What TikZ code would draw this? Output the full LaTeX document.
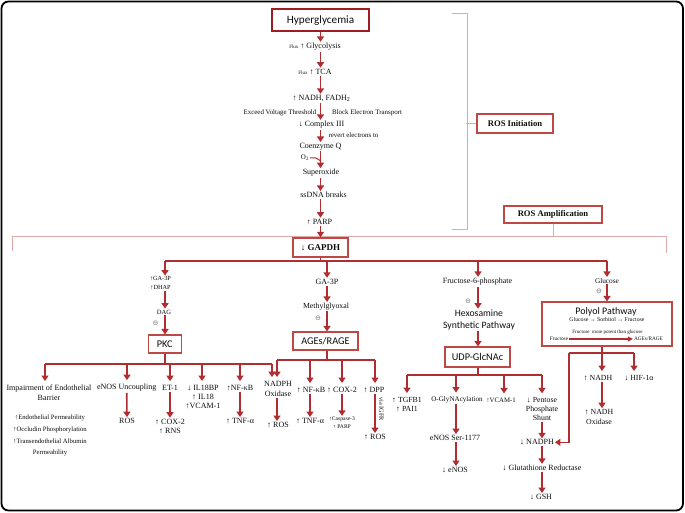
\documentclass[tikz,border=0pt]{standalone}
\usepackage{fontspec}
\setmainfont{Liberation Serif}
\newfontfamily\calib{Carlito}
\newfontfamily\djv{DejaVu Sans}
\usetikzlibrary{arrows.meta,calc}
\definecolor{arrred}{RGB}{176,46,50}
\definecolor{boxred}{RGB}{190,72,70}
\definecolor{darkbox}{RGB}{158,28,34}
\definecolor{pinkl}{RGB}{226,168,168}
\definecolor{txt}{RGB}{12,12,12}
\tikzset{
  lab/.style={font=\fontsize{8}{9.4}\selectfont, text=txt, inner sep=1pt, align=center},
  sm/.style={lab, font=\fontsize{6.9}{8}\selectfont},
  om/.style={font=\djv\fontsize{7}{7}\selectfont, text=black!55, inner sep=0pt},
  sbox/.style={draw=boxred, line width=1.1pt, font=\calib\fontsize{10.3}{12}\selectfont, text=txt, inner sep=0pt},
  bbox/.style={draw=boxred, line width=1.1pt, font=\bfseries\fontsize{8.6}{10}\selectfont, text=txt, inner sep=0pt},
  arr/.style={draw=arrred, line width=1.6pt, -{Triangle[width=7pt,length=5.5pt]}},
  tarr/.style={arr, shorten >=3pt},
  rline/.style={draw=arrred, line width=1.6pt},
  pline/.style={draw=pinkl, line width=1pt}
}
\begin{document}
\begin{tikzpicture}[x=1pt,y=-1pt]
\useasboundingbox (0,0) rectangle (685,513);
\draw[line width=1.8pt, rounded corners=7pt] (1.5,1.5) rectangle (683,510.5);

% ---------- main chain ----------
\coordinate (cM) at (320.5,0);
\node[draw=darkbox, line width=2pt, minimum width=97pt, minimum height=22pt, inner sep=0pt, text=txt, font=\calib\fontsize{11.2}{13}\selectfont] (hyper) at (320.5,20.5) {Hyperglycemia};
\node[lab] (glyc) at (315,46.7) {{\fontsize{5}{6}\selectfont Flux} ↑ Glycolysis};
\node[lab] (tca) at (315,71.7) {{\fontsize{5}{6}\selectfont Flux} ↑ TCA};
\node[lab] (nadh) at (321.5,98.3) {↑ NADH, FADH\textsubscript{2}};
\node[sm] (exceed) at (280,113) {Exceed Voltage Threshold};
\node[sm] (block) at (367,113) {Block Electron Transport};
\node[lab] (cplx) at (321.5,124.7) {↓ Complex III};
\node[sm] (revert) at (353.5,135) {revert electrons to};
\node[lab] (coq) at (320.5,146.7) {Coenzyme Q};
\node[lab, font=\fontsize{7}{8}\selectfont] (o2) at (305,158) {O\textsubscript{2}};
\node[lab] (supox) at (321,173) {Superoxide};
\node[lab] (ssdna) at (323.5,195) {ssDNA breaks};
\node[lab] (parp) at (319.5,221.7) {↑ PARP};
\node[draw=boxred, line width=1.4pt, minimum width=55pt, minimum height=19pt, inner sep=0pt, text=txt, font=\bfseries\fontsize{9}{10}\selectfont] (gapdh) at (320.5,247.5) {↓ GAPDH};

% ---------- brackets ----------
\node[bbox, minimum width=76pt, minimum height=19pt] (rosinit) at (515,123.5) {ROS Initiation};
\node[bbox, minimum width=98pt, minimum height=17pt] (rosamp) at (553,214.5) {ROS Amplification};
\coordinate (bT) at (452,14);
\coordinate (bB) at (452,229);
\draw[pline] (bT) -- (467,14) |- (bB);
\draw[pline] (rosinit.west) -- ++(-10,0);
\coordinate (aL) at (12,251);
\coordinate (aR) at (666,253);
\draw[pline] (aL) -- (12,236) -- (666,236) -- (aR);
\draw[pline] (rosamp.south) -- ++(0,13);

\foreach \a/\b in {hyper/glyc, glyc/tca, tca/nadh, nadh/cplx, cplx/coq, coq/supox, supox/ssdna, ssdna/parp, parp/gapdh}
  \draw[arr] (\a.south -| cM) -- (\b.north -| cM);
\coordinate (o2m) at (320.5,161);
\draw[draw=arrred, line width=1pt] (o2.east) .. controls (316,157.5) .. (o2m);

% ---------- distribution ----------
\coordinate (sp) at (320.5,261);
\coordinate (cA) at (165,0);
\coordinate (cB) at (327,0);
\coordinate (cC) at (478,0);
\coordinate (cD) at (607,0);
\draw[rline] (gapdh.south) -- (sp);
\draw[rline] (sp -| cA) -- (sp -| cD);

% ---------- column A : PKC ----------
\node[lab, font=\fontsize{6.3}{9}\selectfont] (ga3pA) at (160.5,283.5) {↑GA-3P\\↑DHAP};
\node[lab, font=\fontsize{6.5}{8}\selectfont] (dag) at (164,312) {DAG};
\node[om] (omA) at (155.5,323) {⊖};
\node[sbox, minimum width=33pt, minimum height=18pt] (pkc) at (164.7,344) {PKC};
\draw[arr] (sp -| cA) -- (ga3pA.north -| cA);
\draw[arr] (ga3pA.south -| cA) -- (dag.north -| cA);
\draw[arr] (dag.south -| cA) -- (pkc.north -| cA);

\node[lab, font=\fontsize{8}{9.2}\selectfont] (impair) at (49,392.7) {Impairment of Endothelial\\Barrier};
\node[lab, font=\fontsize{6.7}{11.8}\selectfont] (implist) at (50,435.5) {↑Endothelial Permeability\\↑Occludin Phosphorylation\\↑Transendothelial Albumin\\Permeability};
\node[lab] (enos) at (126.7,388) {eNOS Uncoupling};
\node[lab] (rosA) at (127,421) {ROS};
\node[lab] (et1) at (170,388) {ET-1};
\node[lab, font=\fontsize{8}{9.3}\selectfont] (cox2A) at (170,426.3) {↑ COX-2\\↑ RNS};
\node[lab, font=\fontsize{8}{9}\selectfont] (il18) at (203,397) {↓ IL18BP\\↑ IL18\\↑VCAM-1};
\node[lab] (nfkbA) at (240,388) {↑NF-κB};
\node[lab] (tnfA) at (240,421) {↑ TNF-α};

\coordinate (pA) at (165,364);
\coordinate (tA1) at (45,364);
\coordinate (tA2) at (127,364);
\coordinate (tA3) at (170,364);
\coordinate (tA4) at (202,364);
\coordinate (tA5) at (240,364);
\coordinate (tA6) at (272,364);
\draw[rline] (pkc.south -| cA) -- (pA);
\draw[rline] (tA1) -- (tA6);
\draw[tarr] (tA1) -- (impair.north -| tA1);
\draw[tarr] (tA2) -- (enos.north -| tA2);
\draw[tarr] (tA3) -- (et1.north -| tA3);
\draw[tarr] (tA4) -- (il18.north -| tA4);
\draw[tarr] (tA5) -- (nfkbA.north -| tA5);
\draw[arr] (enos) -- (rosA);
\draw[arr] (et1) -- (cox2A);
\draw[arr] (nfkbA) -- (tnfA);

% ---------- column B : AGEs ----------
\node[lab] (ga3pB) at (327,281.7) {GA-3P};
\node[lab, font=\fontsize{7.8}{9}\selectfont] (methyl) at (326,306.7) {Methylglyoxal};
\node[om] (omB) at (318,318) {⊖};
\node[sbox, minimum width=65pt, minimum height=18pt] (ages) at (325.5,341) {AGEs/RAGE};
\draw[arr] (sp -| cB) -- (ga3pB.north -| cB);
\draw[arr] (ga3pB.south -| cB) -- (methyl.north -| cB);
\draw[arr] (methyl.south -| cB) -- (ages.north -| cB);

\node[lab, font=\fontsize{8}{10}\selectfont] (nadphox) at (278,389) {NADPH\\Oxidase};
\node[lab] (rosB) at (278,425) {↑ ROS};
\node[lab] (nfkbB) at (311,390) {↑ NF-κB};
\node[lab] (tnfB) at (310,421) {↑ TNF-α};
\node[lab] (cox2B) at (342,390) {↑ COX-2};
\node[lab, font=\fontsize{5.6}{8}\selectfont] (casp) at (342,423) {↑Caspase-3\\↑ PARP};
\node[lab] (dpp) at (374,390) {↑ DPP};
\node[lab] (rosC) at (375,437) {↑ ROS};
\node[lab, font=\fontsize{6.3}{7}\selectfont, rotate=-90] (via) at (381.5,409) {via IGFR};

\coordinate (pB) at (327,360);
\coordinate (tB1) at (277,360);
\coordinate (tB2) at (310,360);
\coordinate (tB3) at (342,360);
\coordinate (tB4) at (375,360);
\draw[rline] (ages.south -| cB) -- (pB);
\draw[rline] (tB1) -- (tB4);
\draw[tarr] (tA6) -- (nadphox.north -| tA6);
\draw[tarr] (tB1) -- (nadphox.north -| tB1);
\draw[tarr] (tB2) -- (nfkbB.north -| tB2);
\draw[tarr] (tB3) -- (cox2B.north -| tB3);
\draw[tarr] (tB4) -- (dpp.north -| tB4);
\draw[arr] (nadphox.south -| tB1) -- (rosB.north -| tB1);
\draw[arr] (nfkbB.south -| tB2) -- (tnfB.north -| tB2);
\draw[arr] (cox2B.south -| tB3) -- (casp.north -| tB3);
\draw[arr] (dpp.south -| tB4) -- (rosC.north -| tB4);

% ---------- column C : Hexosamine ----------
\node[lab] (f6p) at (477.5,281.7) {Fructose-6-phosphate};
\node[om] (omC) at (468,301.7) {⊖};
\node[lab, font=\calib\fontsize{9.7}{12}\selectfont] (hexo) at (479,320) {Hexosamine\\Synthetic Pathway};
\node[sbox, minimum width=65pt, minimum height=20pt] (udp) at (477.5,357) {UDP-GlcNAc};
\draw[arr] (sp -| cC) -- (f6p.north -| cC);
\draw[arr] (f6p.south -| cC) -- (hexo.north -| cC);
\draw[arr] (hexo.south -| cC) -- (udp.north -| cC);

\node[lab, font=\fontsize{7.8}{9}\selectfont] (tgfb) at (407,404.5) {↑ TGFB1\\↑ PAI1};
\node[lab, font=\fontsize{7.1}{9}\selectfont] (oglyn) at (457,400) {O-GlyNAcylation};
\node[lab] (enosser) at (455,438) {eNOS Ser-1177};
\node[lab] (enosdn) at (455,470) {↓ eNOS};
\node[lab, font=\fontsize{6.8}{9}\selectfont] (vcam) at (501,400) {↑VCAM-1};
\node[lab, font=\fontsize{7.8}{8.8}\selectfont] (pentose) at (542,409) {↓ Pentose\\Phosphate\\Shunt};
\node[lab] (nadph) at (537,442.3) {↓ NADPH};
\node[lab] (glut) at (542,468) {↓ Glutathione Reductase};
\node[lab] (gsh) at (541,497) {↓ GSH};

\coordinate (pC) at (478,375);
\coordinate (tC1) at (407,375);
\coordinate (tC2) at (456,375);
\coordinate (tC3) at (504,375);
\coordinate (tC4) at (542,375);
\draw[rline] (udp.south -| cC) -- (pC);
\draw[rline] (tC1) -- (tC4);
\draw[tarr] (tC1) -- (tgfb.north -| tC1);
\draw[tarr] (tC2) -- (oglyn.north -| tC2);
\draw[tarr] (tC3) -- (vcam.north -| tC3);
\draw[tarr] (tC4) -- (pentose.north -| tC4);
\draw[arr] (oglyn.south -| tC2) -- (enosser.north -| tC2);
\draw[arr] (enosser.south -| tC2) -- (enosdn.north -| tC2);
\draw[arr] (pentose.south -| tC4) -- (nadph.north -| tC4);
\draw[arr] (nadph.south -| tC4) -- (glut.north -| tC4);
\draw[arr] (glut.south -| tC4) -- (gsh.north -| tC4);

% ---------- column D : Polyol ----------
\node[lab, font=\fontsize{7.3}{8}\selectfont] (gluc) at (607,280.7) {Glucose};
\node[om] (omD) at (599,291.7) {⊖};
\node[draw=boxred, line width=1.1pt, minimum width=130pt, minimum height=44pt, inner sep=0pt] (polyol) at (607,324) {};
\node[font=\calib\fontsize{10}{12}\selectfont, text=txt, inner sep=0pt] (polyT) at (606,311.7) {Polyol Pathway};
\node[lab, font=\fontsize{5.8}{7}\selectfont] (gsf) at (607,320) {Glucose → Sorbitol → Fructose};
\node[lab, font=\fontsize{5}{6}\selectfont] (potent) at (607.5,332.7) {Fructose\ \ more potent than glucose};
\node[lab, font=\fontsize{5.3}{6}\selectfont] (fructL) at (559,339) {Fructose};
\node[lab, font=\fontsize{5.3}{6}\selectfont] (agesR) at (648.5,339) {AGEs/RAGE};
\draw[arr] (sp -| cD) -- (gluc.north -| cD);
\draw[arr] (gluc.south -| cD) -- (polyol.north -| cD);
\draw[draw=arrred, line width=1.2pt, -{Triangle[width=5pt,length=5pt]}] (fructL.east) -- (agesR.west);

\node[lab, font=\fontsize{7.8}{9}\selectfont] (nadhD) at (598,378) {↑ NADH};
\node[lab, font=\fontsize{7.8}{9}\selectfont] (hif) at (639,378) {↓ HIF-1α};
\node[lab, font=\fontsize{7.8}{10}\selectfont] (nadhox) at (599,417) {↑ NADH\\Oxidase};
\coordinate (pD) at (602,353);
\coordinate (pL) at (569,353);
\coordinate (pR) at (634,353);
\draw[rline] (polyol.south -| pD) -- (pD);
\draw[rline] (pL) -- (pR);
\draw[tarr] (pD) -- (nadhD.north -| pD);
\draw[tarr] (pR) -- (hif.north -| pR);
\draw[arr] (nadhD.south -| pD) -- (nadhox.north -| pD);
\draw[arr] (pL) |- (nadph.east);
\end{tikzpicture}
\end{document}
